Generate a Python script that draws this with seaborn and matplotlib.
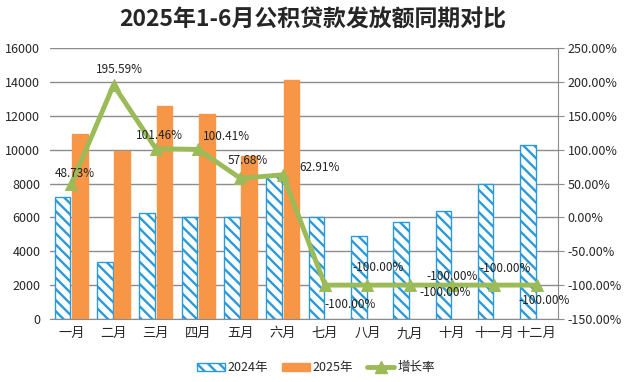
import numpy as np
import pandas as pd
import matplotlib
matplotlib.use("Agg")
import matplotlib.pyplot as plt
import seaborn as sns
from matplotlib.patches import Patch
from matplotlib.lines import Line2D

# --- DATA ---
months = ["一月", "二月", "三月", "四月", "五月", "六月",
          "七月", "八月", "九月", "十月", "十一月", "十二月"]
loans_2024 = [7230, 3350, 6250, 6000, 6050, 8500, 6050, 4900, 5700, 6350, 8000, 10300]
loans_2025 = [10900, 9950, 12600, 12100, 9650, 14100]
growth = [48.73, 195.59, 101.46, 100.41, 57.68, 62.91,
          -100.00, -100.00, -100.00, -100.00, -100.00, -100.00]
growth_labels = [f"{g:.2f}%" for g in growth]

# label offsets in pixels (dx, dy) relative to each point
LABEL_OFFSETS = [(4, 11), (6, 15), (4, 13), (28, 13), (7, 18), (37, 7),
                 (25, -19), (11, 18), (35, -7), (0, 9), (11, 17), (8, -15)]

BLUE = "#2A9AD8"
ORANGE = "#F79646"
GREEN = "#9BBB59"
GRID = "#8C8C8C"

sns.set_style("white")
plt.rcParams["font.family"] = ["Noto Sans CJK SC", "DejaVu Sans"]
plt.rcParams["hatch.linewidth"] = 1.7
plt.rcParams["axes.unicode_minus"] = False

df = pd.concat([
    pd.DataFrame({"month": months, "value": loans_2024, "year": "2024年"}),
    pd.DataFrame({"month": months[:len(loans_2025)], "value": loans_2025, "year": "2025年"}),
])

fig = plt.figure(figsize=(6.26, 3.82), dpi=100)
ax = fig.add_axes([0.08, 0.165, 0.811, 0.709])

sns.barplot(data=df, x="month", y="value", hue="year", order=months,
            hue_order=["2024年", "2025年"], palette=["white", ORANGE],
            saturation=1, width=0.82, gap=0.1, legend=False, ax=ax, zorder=2)

# hatched outline for 2024, solid orange for 2025
for bar in ax.containers[0]:
    bar.set_hatch("\\\\\\")
    bar.set_edgecolor(BLUE)
    bar.set_linewidth(1.0)
for bar in ax.containers[1]:
    bar.set_edgecolor(ORANGE)

ax.set_ylim(0, 16000)
ax.set_yticks(np.arange(0, 16001, 2000))
ax.set_xlim(-0.5, len(months) - 0.5)
ax.grid(axis="y", color=GRID, linewidth=1.0, zorder=0)
ax.set_axisbelow(True)
ax.set_xlabel("")
ax.set_ylabel("")
for s in ["top", "right", "left"]:
    ax.spines[s].set_visible(False)
ax.spines["bottom"].set_color(GRID)
ax.tick_params(axis="y", length=0, labelsize=9, pad=7)
ax.tick_params(axis="x", length=0, labelsize=9.5, pad=6)

# growth rate on the secondary axis
ax2 = ax.twinx()
sns.lineplot(x=np.arange(len(months)), y=growth, ax=ax2, color=GREEN,
             linewidth=3.5, marker="^", markersize=9, markeredgecolor=GREEN,
             zorder=5)
ax2.set_ylim(-150, 250)
ax2.set_yticks(np.arange(-150, 251, 50))
ax2.set_yticklabels([f"{v:.2f}%" for v in np.arange(-150, 251, 50)])
ax2.tick_params(axis="y", length=4, color=GRID, labelsize=9, pad=3)
for s in ["top", "left", "bottom"]:
    ax2.spines[s].set_visible(False)
ax2.spines["right"].set_color(GRID)

for i, (g, lab) in enumerate(zip(growth, growth_labels)):
    dx, dy = LABEL_OFFSETS[i]
    ax2.annotate(lab, (i, g), xytext=(dx, dy), textcoords="offset pixels",
                 ha="center", va="center", fontsize=8.5, color="#222222", zorder=6)

fig.suptitle("2025年1-6月公积贷款发放额同期对比", x=0.5, y=0.978,
             fontsize=16.5, fontweight="bold")

handles = [
    Patch(facecolor="white", edgecolor=BLUE, hatch="\\\\\\", label="2024年"),
    Patch(facecolor=ORANGE, edgecolor=ORANGE, label="2025年"),
    Line2D([0], [0], color=GREEN, linewidth=3.5, marker="^", markersize=8, label="增长率"),
]
fig.legend(handles=handles, loc="center", bbox_to_anchor=(0.505, 0.037), ncol=3,
           frameon=False, fontsize=9, handlelength=2.2, columnspacing=1.1,
           handletextpad=0.25)

fig.savefig("out.png", dpi=100)
